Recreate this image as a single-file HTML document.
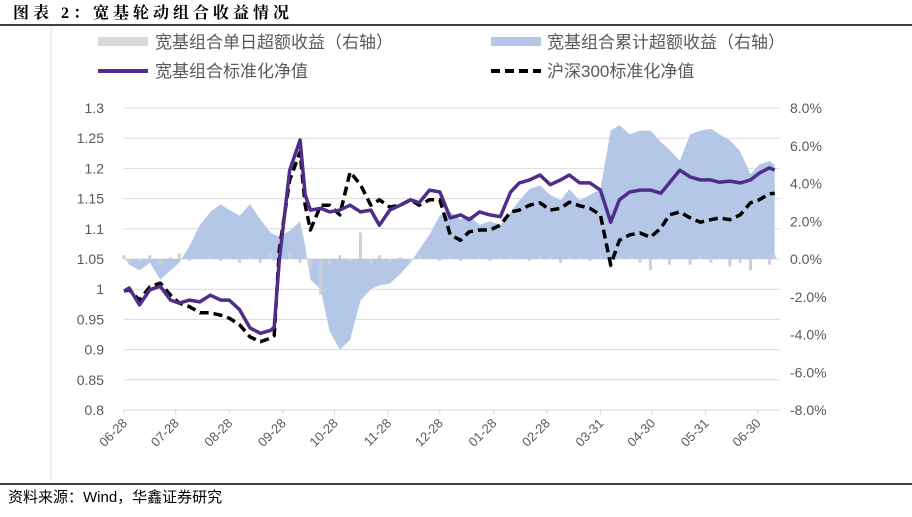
<!DOCTYPE html>
<html><head><meta charset="utf-8">
<style>
body{margin:0;background:#fff;width:912px;height:512px;overflow:hidden;font-family:"Liberation Sans","Noto Sans CJK SC",sans-serif;}
svg text{font-family:"Liberation Sans","Noto Sans CJK SC",sans-serif;}
svg text.title{font-family:"Liberation Serif","Noto Serif CJK SC",serif;}
</style></head>
<body>
<svg id="chart" width="912" height="512" xmlns="http://www.w3.org/2000/svg">
  <text class="title" x="13" y="18" font-size="16" font-weight="bold" letter-spacing="4" fill="#000">图表 2：宽基轮动组合收益情况</text>
  <line x1="0" y1="25" x2="912" y2="25" stroke="#000" stroke-width="1.5"/>
  <line x1="51" y1="26" x2="51" y2="480" stroke="#ddd"/>
  <g font-size="17" fill="#595959">
    <rect x="98" y="37" width="50" height="9" fill="#d9d9d9"/>
    <text x="155" y="48">宽基组合单日超额收益（右轴）</text>
    <rect x="491" y="37" width="50" height="9" fill="#b4c7e7"/>
    <text x="547" y="48">宽基组合累计超额收益（右轴）</text>
    <line x1="98" y1="71" x2="148" y2="71" stroke="#4f2d8a" stroke-width="4"/>
    <text x="155" y="77">宽基组合标准化净值</text>
    <line x1="491" y1="71" x2="541" y2="71" stroke="#000" stroke-width="4" stroke-dasharray="9,5"/>
    <text x="547" y="77">沪深300标准化净值</text>
  </g>
  <g id="grid"></g>
  <g id="marks"></g>
  <g id="axes"></g>
  <line x1="0" y1="484" x2="912" y2="484" stroke="#000" stroke-width="1.5"/>
  <text x="8" y="502" font-size="15" fill="#000">资料来源：Wind，华鑫证券研究</text>
</svg>
<script>
const days=[0,3,9,15,21,27,32,38,44,50,56,61,67,73,79,85,87,90,96,102,105,108,114,119,125,131,137,143,148,154,160,166,171,177,183,189,195,200,206,212,218,224,229,235,241,247,253,258,264,270,276,282,287,293,299,305,311,316,322,328,334,340,345,351,357,363,368,374,377];
const navPortfolio=[0.997,1.002,0.974,0.999,1.005,0.982,0.977,0.982,0.979,0.990,0.982,0.982,0.966,0.936,0.927,0.932,0.937,1.048,1.197,1.247,1.156,1.131,1.134,1.128,1.131,1.139,1.128,1.131,1.106,1.131,1.139,1.148,1.143,1.164,1.161,1.118,1.123,1.115,1.128,1.123,1.120,1.161,1.176,1.181,1.189,1.173,1.181,1.189,1.176,1.176,1.164,1.111,1.148,1.161,1.164,1.164,1.159,1.176,1.197,1.186,1.181,1.181,1.177,1.179,1.176,1.181,1.192,1.201,1.197];
const navHs300=[0.997,0.999,0.982,1.004,1.010,0.990,0.977,0.971,0.961,0.961,0.957,0.952,0.941,0.921,0.913,0.919,0.923,1.065,1.181,1.227,1.139,1.098,1.139,1.139,1.123,1.194,1.173,1.139,1.148,1.136,1.139,1.148,1.139,1.148,1.148,1.090,1.081,1.095,1.098,1.098,1.106,1.128,1.131,1.139,1.143,1.131,1.134,1.144,1.138,1.134,1.123,1.040,1.081,1.090,1.093,1.086,1.101,1.123,1.128,1.118,1.111,1.115,1.118,1.115,1.123,1.143,1.148,1.158,1.159];
const cumExcess=[0.1,-0.3,-0.6,-0.2,-1.1,-0.6,-0.2,0.7,1.8,2.5,2.9,2.6,2.3,2.9,2.1,1.4,1.3,1.2,1.5,2.0,0.7,-1.1,-1.6,-3.8,-4.8,-4.3,-2.2,-1.6,-1.4,-1.3,-0.8,-0.2,0.5,1.3,2.3,2.5,2.1,2.3,1.8,2.0,1.8,2.5,3.1,3.7,3.9,3.4,3.1,3.7,3.1,3.4,3.7,6.8,7.1,6.6,6.8,6.8,6.2,5.8,5.2,6.6,6.8,6.9,6.6,6.3,5.7,4.5,5.0,5.2,5.0];
const dailyExcess=[0.2,-0.2,-0.1,0.2,-0.3,0.1,0.3,-0.1,0.1,0.2,-0.1,0.1,-0.2,0.1,-0.2,0.3,-0.1,0.2,0.3,-0.2,0.1,-0.4,-1.9,-0.3,0.2,-0.1,1.4,-0.3,0.2,-0.2,0.1,-0.2,0.2,0.1,-0.1,0.2,-0.1,0.1,0.2,-0.1,0.1,0.2,0.1,-0.1,0.2,0.1,-0.2,0.1,0.1,-0.1,0.2,-0.5,0.1,0.2,-0.2,-0.6,0.1,-0.3,0.1,-0.3,0.2,-0.2,0.1,-0.4,-0.2,-0.6,0.2,-0.3,0.2];
const leftTicks=[0.8,0.85,0.9,0.95,1,1.05,1.1,1.15,1.2,1.25,1.3];
const leftLabels=["0.8","0.85","0.9","0.95","1","1.05","1.1","1.15","1.2","1.25","1.3"];
const rightTicks=[-8,-6,-4,-2,0,2,4,6,8];
const rightLabels=["-8.0%","-6.0%","-4.0%","-2.0%","0.0%","2.0%","4.0%","6.0%","8.0%"];
const xTickDays=[0,30,61,92,122,153,183,214,245,276,306,337,367];
const xTickLabels=["06-28","07-28","08-28","09-28","10-28","11-28","12-28","01-28","02-28","03-31","04-30","05-31","06-30"];

const NS="http://www.w3.org/2000/svg";
const X0=124,X1=780,Y0=410,Y1=108;
const xs=d=>X0+d*1.726;
const yl=v=>Y0-(v-0.8)/(1.3-0.8)*(Y0-Y1);
const yr=v=>Y0-(v+8)/16*(Y0-Y1);
function mk(tag,attrs,parent){const e=document.createElementNS(NS,tag);for(const k in attrs)e.setAttribute(k,attrs[k]);parent.appendChild(e);return e;}
const grid=document.getElementById('grid'),marks=document.getElementById('marks'),axes=document.getElementById('axes');
leftTicks.forEach((t,i)=>{
  if(i>0){const g=mk('line',{x1:X0,x2:X1,y1:yl(t),y2:yl(t),stroke:'#d9d9d9','stroke-width':1},grid);
  
  }
  const tx=mk('text',{x:104,y:yl(t)+5,'text-anchor':'end','font-size':14,fill:'#595959'},axes);
  tx.textContent=leftLabels[i];
  
  
});
rightTicks.forEach((t,i)=>{
  const tx=mk('text',{x:790,y:yr(t)+5,'font-size':14,fill:'#595959'},axes);
  tx.textContent=rightLabels[i];
  
  
});
const ax=mk('line',{x1:X0,x2:X1,y1:Y0,y2:Y0,stroke:'#d9d9d9'},axes);


xTickDays.forEach((d,i)=>{
  const x=xs(d);
  const tk=mk('line',{x1:x,x2:x,y1:Y0,y2:Y0+5,stroke:'#d9d9d9'},axes);
  
  
  const tx=mk('text',{x:x+4,y:Y0+14,'text-anchor':'end','font-size':13,fill:'#595959',transform:`rotate(-45 ${x+4} ${Y0+14})`},axes);
  tx.textContent=xTickLabels[i];
  
  
});
let ad=`M${xs(days[0])},${yr(0)}`;
days.forEach((d,i)=>{ad+=`L${xs(d)},${yr(cumExcess[i])}`;});
ad+=`L${xs(days[days.length-1])},${yr(0)}Z`;
const area=mk('path',{d:ad,fill:'#b4c7e7'},marks);


days.forEach((d,i)=>{
  const v=dailyExcess[i];const y=Math.min(yr(v),yr(0));
  const b=mk('rect',{x:xs(d)-1.5,y:y,width:3,height:Math.abs(yr(v)-yr(0)),fill:'#d0d0d0'},marks);
  
  
});
function line(vals,attrs,name){
  const p=days.map((d,i)=>`${i?'L':'M'}${xs(d).toFixed(1)},${yl(vals[i]).toFixed(1)}`).join('');
  const e=mk('path',Object.assign({d:p,fill:'none','stroke-linejoin':'round'},attrs),marks);
  
  
}
line(navHs300,{stroke:'#000','stroke-width':3.5,'stroke-dasharray':'9,5'},'hs300-nav-line');
line(navPortfolio,{stroke:'#4f2d8a','stroke-width':3.5},'portfolio-nav-line');
</script>
</body></html>
